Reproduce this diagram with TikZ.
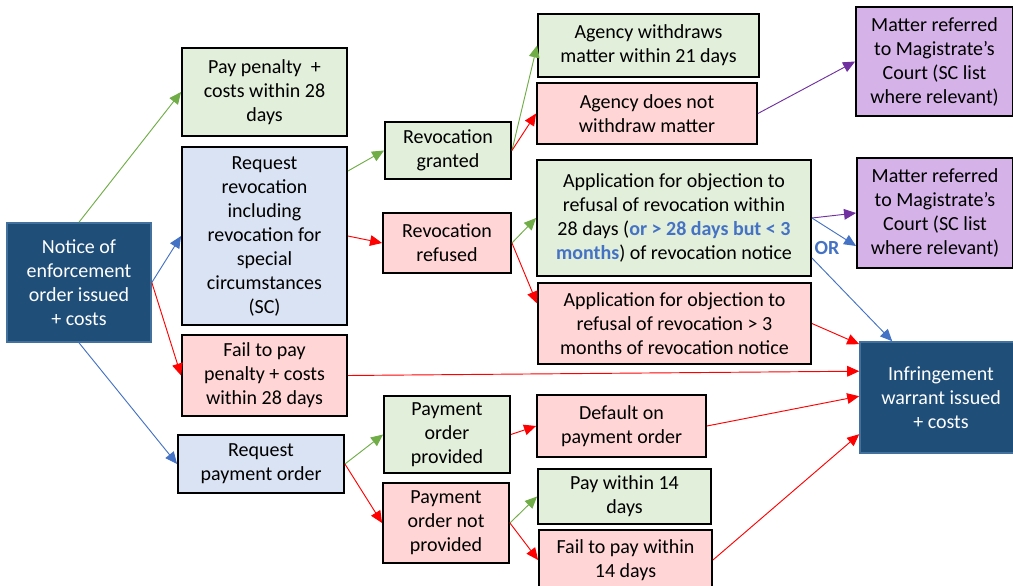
\documentclass[tikz,border=0pt]{standalone}
\usepackage{fontspec}
\setmainfont{Carlito}
\usetikzlibrary{arrows.meta,calc}
\definecolor{boxgreen}{HTML}{E2EFDA}
\definecolor{boxpink}{HTML}{FFD5D5}
\definecolor{boxblue}{HTML}{DAE3F3}
\definecolor{boxpurple}{HTML}{D5B2E8}
\definecolor{darkblue}{HTML}{1F4E79}
\definecolor{edgeblue}{HTML}{41719C}
\definecolor{lngreen}{HTML}{70AD47}
\definecolor{lnblue}{HTML}{4472C4}
\definecolor{lnpurple}{HTML}{7030A0}

\begin{document}
\begin{tikzpicture}[x=0.75pt,y=-0.75pt,
  box/.style={draw=black, line width=1.4pt, align=center, inner sep=0pt, font=\fontsize{15}{18}\selectfont},
  gbox/.style={box, fill=boxgreen},
  pbox/.style={box, fill=boxpink},
  bbox/.style={box, fill=boxblue},
  vbox/.style={box, fill=boxpurple},
  dbox/.style={box, fill=darkblue, draw=edgeblue, line width=1.2pt, text=white},
  flow/.style={-{Triangle[length=9pt,width=8pt]}, line width=0.7pt},
  gflow/.style={flow, lngreen},
  rflow/.style={flow, red},
  bflow/.style={flow, lnblue},
  vflow/.style={flow, lnpurple}]
  \useasboundingbox (0,0) rectangle (1013,585);
  \clip (0,0) rectangle (1013,585);

  \node[dbox, minimum width=108pt, minimum height=89.25pt] (notice) at (79,282.5) {Notice of\\enforcement\\order issued\\+ costs};
  \node[gbox, minimum width=123.75pt, minimum height=66pt] (pay) at (264.5,92) {Pay penalty~ +\\costs within 28\\days};
  \node[bbox, minimum width=123.75pt, minimum height=133.5pt] (reqrev) at (264.5,236) {Request\\revocation\\including\\revocation for\\special\\circumstances\\(SC)};
  \node[pbox, minimum width=123.75pt, minimum height=60.75pt] (failpay) at (264.5,375.5) {Fail to pay\\penalty + costs\\within 28 days};
  \node[bbox, minimum width=124.5pt, minimum height=43.5pt] (reqpay) at (261,464) {Request\\payment order};
  \node[gbox, minimum width=94.5pt, minimum height=42.75pt] (revgr) at (448,150.5) {Revocation\\granted};
  \node[pbox, minimum width=96pt, minimum height=45pt] (revref) at (447,243) {Revocation\\refused};
  \node[gbox, minimum width=165.75pt, minimum height=47.25pt] (withdraw) at (648.5,45.5) {Agency withdraws\\matter within 21 days};
  \node[pbox, minimum width=165pt, minimum height=45.75pt] (nowithdraw) at (647,113.5) {Agency does not\\withdraw matter};
  \node[gbox, minimum width=205.5pt, minimum height=87pt] (objin) at (674,218) {Application for objection to\\refusal of revocation within\\28 days (\textcolor{lnblue}{\textbf{or > 28 days but < 3}}\\\textcolor{lnblue}{\textbf{months}}) of revocation notice};
  \node[pbox, minimum width=204.75pt, minimum height=60.75pt] (objlate) at (674.5,323.5) {Application for objection to\\refusal of revocation > 3\\months of revocation notice};
  \node[vbox, minimum width=117.75pt, minimum height=81.75pt] (court1) at (934.5,61.5) {Matter referred\\to Magistrate’s\\Court (SC list\\where relevant)};
  \node[vbox, minimum width=117pt, minimum height=82.5pt] (court2) at (935,213) {Matter referred\\to Magistrate’s\\Court (SC list\\where relevant)};
  \node[dbox, minimum width=121.5pt, minimum height=83.25pt] (warrant) at (941,397.5) {Infringement\\warrant issued\\+ costs};
  \node[gbox, minimum width=94.5pt, minimum height=57.75pt] (poprov) at (447,434.5) {Payment\\order\\provided};
  \node[pbox, minimum width=94.5pt, minimum height=60pt] (ponot) at (446,523) {Payment\\order not\\provided};
  \node[pbox, minimum width=126.75pt, minimum height=46.5pt] (default) at (621.5,426) {Default on\\payment order};
  \node[gbox, minimum width=129.75pt, minimum height=41.25pt] (pay14) at (624.5,496.5) {Pay within 14\\days};
  \node[pbox, minimum width=129.75pt, minimum height=45pt] (fail14) at (625.5,560) {Fail to pay within\\14 days};
  \node[font=\fontsize{15}{18}\selectfont\bfseries, text=lnblue] (orlbl) at (827,248) {OR};

  \draw[gflow] (notice.north) -- (pay.west);
  \draw[bflow] (notice.east) -- (reqrev.west);
  \draw[rflow] (notice.east) -- (failpay.west);
  \draw[bflow] (notice.south) -- (reqpay.west);
  \draw[gflow] ($(reqrev.east)+(0,-65)$) -- (revgr.west);
  \draw[rflow] (reqrev.east) -- (revref.west);
  \draw[gflow] (revgr.east) -- (withdraw.west);
  \draw[rflow] (revgr.east) -- (nowithdraw.west);
  \draw[gflow] (revref.east) -- (objin.west);
  \draw[rflow] (revref.east) -- ($(objlate.west)+(0,-20)$);
  \draw[vflow] (nowithdraw.east) -- (court1.west);
  \draw[vflow] (objin.east) -- (court2.west);
  \draw[bflow] (objin.east) -- ($(court2.west)+(0,33)$);
  \draw[bflow] ($(objin.east)+(0,40)$) -- ($(warrant.north west)+(33,0)$);
  \draw[rflow] (objlate.east) -- ($(warrant.north west)+(0,3)$);
  \draw[rflow] (failpay.east) -- ($(warrant.north west)+(0,30)$);
  \draw[rflow] (default.east) -- ($(warrant.north west)+(0,55)$);
  \draw[rflow] (fail14.east) -- ($(warrant.north west)+(0,93)$);
  \draw[gflow] (reqpay.east) -- (poprov.west);
  \draw[rflow] (reqpay.east) -- (ponot.west);
  \draw[rflow] (poprov.east) -- (default.west);
  \draw[gflow] (ponot.east) -- (pay14.west);
  \draw[rflow] (ponot.east) -- (fail14.west);
\end{tikzpicture}
\end{document}
